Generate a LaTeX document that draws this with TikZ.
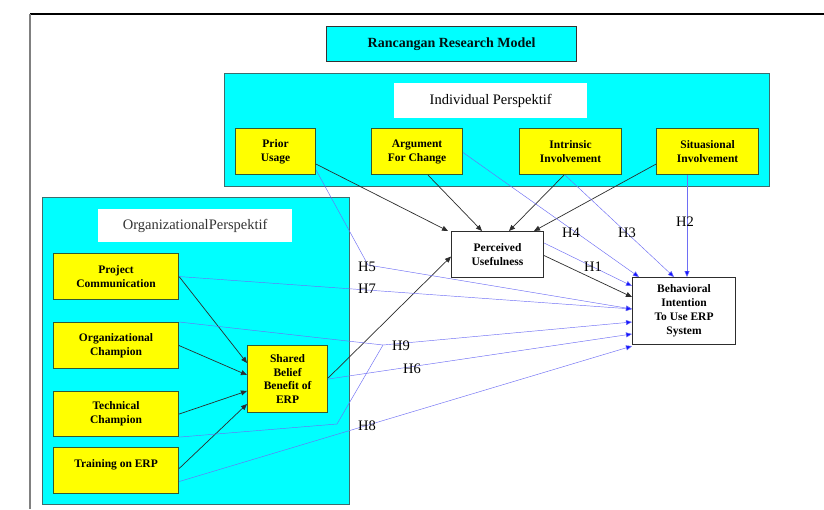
\documentclass[tikz,border=0pt]{standalone}
\usepackage{fontspec}
\setmainfont{Liberation Serif}
\usetikzlibrary{arrows.meta,calc}
\definecolor{cyanf}{RGB}{0,255,255}
\definecolor{cyanb}{RGB}{60,110,110}
\definecolor{yelf}{RGB}{255,255,0}
\definecolor{yelb}{RGB}{50,90,50}
\definecolor{darkl}{RGB}{45,45,45}
\definecolor{bluel}{RGB}{110,110,245}
\definecolor{blueh}{RGB}{20,20,255}
\begin{document}
\begin{tikzpicture}[x=1pt,y=-1pt,
  box/.style={anchor=north west,inner sep=0pt,align=center,font=\fontsize{11.5}{14}\selectfont\bfseries},
  ybox/.style={box,draw=yelb,fill=yelf,line width=1.1pt},
  wbox/.style={box,draw=darkl,fill=white,line width=1.1pt},
  cbox/.style={anchor=north west,inner sep=0pt,draw=cyanb,fill=cyanf,line width=1.1pt},
  lbl/.style={anchor=north west,inner sep=0pt,fill=white,font=\fontsize{14.5}{16}\selectfont},
  blk/.style={draw=darkl,line width=0.7pt,-{Triangle[length=6pt,width=5pt]}},
  blu/.style={draw=bluel,line width=0.45pt,-{Triangle[length=6pt,width=5pt,fill=blueh]}},
  bluplain/.style={draw=bluel,line width=0.45pt},
  hl/.style={inner sep=0pt,font=\fontsize{14.5}{16}\selectfont}]
\useasboundingbox (0,0) rectangle (824,509);
\fill[white] (0,0) rectangle (824,509);
% frame
\draw[line width=1.2pt,black] (30,14) -- (824,14);
\draw[line width=1.5pt,gray] (30,14) -- (30,509);
% title
\node[cbox,draw=black!80,minimum width=250pt,minimum height=35pt,font=\fontsize{14}{16}\selectfont\bfseries,text=black!85!teal] (title) at (326,26) {Rancangan Research Model};
% individual
\node[cbox,minimum width=545pt,minimum height=113pt] (indiv) at (224,73) {};
\node[lbl,minimum width=193pt,minimum height=35pt] (indlbl) at (394,83) {Individual Perspektif};
\node[ybox,minimum width=80pt,minimum height=46pt] (prior) at (235,128) {Prior\\Usage};
\node[ybox,minimum width=91pt,minimum height=46pt] (arg) at (371,128) {Argument\\For Change};
\node[ybox,minimum width=102pt,minimum height=46pt] (intr) at (519,128) {Intrinsic\\Involvement};
\node[ybox,minimum width=102pt,minimum height=46pt] (situ) at (656,128) {Situasional\\Involvement};
% organizational
\node[cbox,minimum width=307pt,minimum height=307pt] (org) at (42,197) {};
\node[lbl,minimum width=194pt,minimum height=33pt,text=black!80] (orglbl) at (98,209) {OrganizationalPerspektif};
\node[ybox,minimum width=125pt,minimum height=46pt] (proj) at (53,253) {Project\\Communication};
\node[ybox,minimum width=125pt,minimum height=46pt] (ochamp) at (53,322) {Organizational\\Champion};
\node[ybox,minimum width=125pt,minimum height=45pt] (tech) at (53,391) {Technical\\Champion};
\node[ybox,minimum width=125pt,minimum height=46pt] (train) at (53,447) {Training on ERP\\\mbox{}};
\node[ybox,minimum width=80pt,minimum height=67pt,font=\fontsize{11.5}{13.5}\selectfont\bfseries] (shared) at (247,345) {Shared\\Belief\\Benefit of\\ERP};
% center boxes
\node[wbox,minimum width=92pt,minimum height=46pt] (pu) at (451,231) {Perceived\\Usefulness};
\node[wbox,minimum width=103pt,minimum height=67pt] (bi) at (632,277) {Behavioral\\Intention\\To Use ERP\\System};
% black arrows
\draw[blk] ($(prior.south east)+(0,-11)$) -- ($(pu.north west)+(-3,0)$);
\draw[blk] ($(arg.south west)+(57,0)$) -- ($(pu.north west)+(31,0)$);
\draw[blk] ($(intr.south west)+(45,0)$) -- ($(pu.north west)+(58,0)$);
\draw[blk] ($(situ.south west)+(0,-11)$) -- ($(pu.north west)+(83,0)$);
\draw[blk] ($(shared.east)+(0,-1)$) -- ($(pu.west)+(0,2)$);
\draw[blk] ($(pu.east)+(0,1)$) -- ($(bi.north west)+(0,20)$);
\draw[blk] (proj.east) -- ($(shared.north west)+(0,18)$);
\draw[blk] (ochamp.east) -- ($(shared.north west)+(0,30)$);
\draw[blk] (tech.east) -- ($(shared.north west)+(0,46)$);
\draw[blk] ($(train.east)+(0,-2)$) -- ($(shared.north west)+(0,59)$);
% blue arrows
\coordinate (b5) at (368,265);
\coordinate (b9) at (383,345);
\coordinate (t9) at (337,424);
\draw[blu] ($(pu.north east)+(0,12)$) -- ($(bi.north west)+(0,9)$);
\draw[blu] ($(situ.south west)+(31,0)$) -- ($(bi.north west)+(55,0)$);
\draw[blu] ($(intr.south west)+(46,0)$) -- ($(bi.north west)+(42,0)$);
\draw[blu] ($(arg.east)+(0,1)$) -- ($(bi.north west)+(7,0)$);
\draw[blu] ($(prior.south east)+(0,-5)$) -- (b5) -- ($(bi.north west)+(0,32)$);
\draw[blu] ($(proj.east)+(0,0)$) -- ($(bi.north west)+(0,32)$);
\draw[blu] (ochamp.north east) -- (b9) -- ($(bi.north west)+(0,45)$);
\draw[bluplain] (tech.south east) -- (t9) -- (b9);
\draw[blu] ($(shared.east)+(0,0)$) -- ($(bi.north west)+(0,57)$);
\draw[blu] ($(train.east)+(0,11)$) -- ($(bi.south west)+(0,1)$);
% labels
\node[hl] (h1) at (593,267) {H1};
\node[hl] (h2) at (685,222) {H2};
\node[hl] (h3) at (627,233) {H3};
\node[hl] (h4) at (571,233) {H4};
\node[hl] (h5) at (367,267) {H5};
\node[hl] (h7) at (367,289) {H7};
\node[hl] (h9) at (401,346) {H9};
\node[hl] (h6) at (412,369) {H6};
\node[hl] (h8) at (367,426) {H8};
\end{tikzpicture}
\end{document}
